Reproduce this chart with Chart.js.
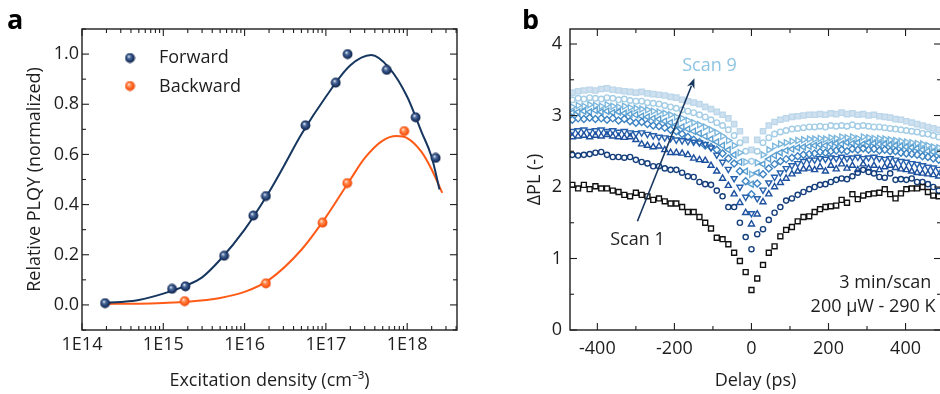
<!DOCTYPE html>
<html><head><meta charset="utf-8">
<script src="https://cdn.jsdelivr.net/npm/chart.js@4.4.1/dist/chart.umd.min.js"></script>
<style>
html,body{margin:0;padding:0;background:#fff;overflow:hidden;}
#wrap{position:relative;width:940px;height:394px;overflow:hidden;background:#fff;}
#ca{position:absolute;left:0;top:0;}
#cb{position:absolute;left:470px;top:0;}
</style></head><body>
<div id="wrap">
<canvas id="ca" width="470" height="394"></canvas>
<canvas id="cb" width="480" height="394"></canvas>
</div>
<script>
// ---------------- Panel a data ----------------
const forwardDensity = [1.92e14, 1.28e15, 1.87e15, 5.6e15, 1.28e16, 1.83e16, 5.6e16, 1.32e17, 1.85e17, 5.6e17, 1.27e18, 2.24e18];
const forwardPLQY    = [0.007, 0.064, 0.074, 0.196, 0.356, 0.434, 0.716, 0.886, 1.0, 0.937, 0.748, 0.586];
const backwardDensity = [1.83e15, 1.83e16, 9.1e16, 1.83e17, 9.2e17];
const backwardPLQY    = [0.015, 0.086, 0.328, 0.486, 0.693];
const fitDensityF = [1.9e14, 3e14, 5e14, 1e15, 2e15, 3e15, 5e15, 1e16, 2e16, 3e16, 5e16, 1e17, 2e17, 3.6e17, 6e17, 1e18, 1.5e18, 2e18, 2.5e18];
const fitForward  = [0.008, 0.012, 0.02, 0.045, 0.08, 0.11, 0.18, 0.30, 0.45, 0.55, 0.68, 0.83, 0.955, 0.996, 0.945, 0.83, 0.69, 0.59, 0.46];
const fitDensityB = [1.9e14, 5e14, 1e15, 2e15, 5e15, 1e16, 2e16, 5e16, 1e17, 2e17, 3e17, 5e17, 7.4e17, 1e18, 1.5e18, 2e18, 2.7e18];
const fitBackward = [0.004, 0.005, 0.008, 0.013, 0.028, 0.052, 0.10, 0.22, 0.35, 0.50, 0.585, 0.655, 0.673, 0.665, 0.61, 0.54, 0.447];
const xTicksA = [1e14, 1e15, 1e16, 1e17, 1e18];
const xTickLabelsA = ['1E14', '1E15', '1E16', '1E17', '1E18'];
const yTicksA = [0, 0.2, 0.4, 0.6, 0.8, 1.0];
const yTickLabelsA = ['0.0', '0.2', '0.4', '0.6', '0.8', '1.0'];
const yMinorA = [-0.1, 0.1, 0.3, 0.5, 0.7, 0.9, 1.1];
const legendLabelsA = ['Forward', 'Backward'];

// ---------------- Panel b data ----------------
const delays = [-465,-450,-435,-420,-405,-390,-375,-360,-345,-330,-315,-300,-285,-270,-255,-240,-225,-210,-195,-180,-165,
  -150,-135,-120,-105,-90,-75,-60,-45,-30,-15,0,15,30,45,60,75,90,105,120,135,150,
  164,178,192,206,220,234,248,262,276,290,304,318,332,346,360,374,388,402,416,430,444,458,472,486];
const scan1 = [2.03,1.98,2.03,1.97,2.01,1.98,1.98,1.95,1.93,1.89,1.87,1.92,1.89,1.87,1.82,1.84,1.80,1.77,1.77,1.72,1.65,
  1.65,1.58,1.50,1.42,1.29,1.27,1.20,1.08,0.965,0.81,0.56,0.72,0.91,1.08,1.17,1.31,1.40,1.44,1.52,1.58,1.59,
  1.65,1.69,1.72,1.73,1.74,1.82,1.78,1.90,1.83,1.88,1.90,1.91,1.92,1.97,1.90,1.84,1.91,1.97,1.98,1.98,2.00,1.93,1.88,1.87];
const scan2 = [2.45,2.44,2.45,2.46,2.48,2.49,2.45,2.42,2.42,2.41,2.42,2.38,2.35,2.33,2.29,2.29,2.26,2.24,2.24,2.20,2.15,
  2.14,2.07,2.04,2.03,1.95,1.87,1.72,1.72,1.50,1.30,1.13,1.34,1.41,1.54,1.64,1.72,1.81,1.84,1.89,1.93,1.97,
  2.00,2.03,2.04,2.07,2.10,2.12,2.11,2.15,2.20,2.24,2.21,2.19,2.14,2.13,2.19,2.10,2.11,2.10,2.12,2.07,2.07,2.04,2.00,1.95];
const scan3 = [2.70,2.71,2.72,2.70,2.72,2.71,2.73,2.71,2.70,2.69,2.70,2.66,2.60,2.58,2.56,2.57,2.52,2.48,2.48,2.47,2.45,
  2.40,2.38,2.37,2.30,2.22,2.12,2.02,1.90,1.78,1.64,1.48,1.62,1.79,1.90,2.00,2.06,2.12,2.18,2.22,2.25,2.26,
  2.24,2.28,2.22,2.30,2.25,2.32,2.26,2.30,2.24,2.32,2.26,2.30,2.24,2.28,2.30,2.27,2.25,2.24,2.22,2.20,2.19,2.18,2.17,2.15];
const scan4 = [2.78,2.79,2.80,2.78,2.79,2.80,2.78,2.79,2.77,2.78,2.76,2.75,2.76,2.74,2.72,2.70,2.69,2.68,2.66,2.65,2.64,
  2.63,2.62,2.60,2.55,2.45,2.35,2.25,2.12,2.00,1.86,1.63,1.84,1.96,2.06,2.14,2.20,2.26,2.30,2.33,2.36,2.38,
  2.38,2.40,2.39,2.41,2.40,2.42,2.40,2.41,2.42,2.40,2.41,2.42,2.40,2.39,2.40,2.38,2.36,2.35,2.33,2.32,2.30,2.28,2.27,2.25];
const scan5 = [2.94,2.96,2.95,2.97,2.95,2.96,2.94,2.96,2.93,2.95,2.92,2.90,2.91,2.88,2.86,2.85,2.83,2.80,2.78,2.74,2.70,
  2.66,2.63,2.58,2.56,2.52,2.47,2.40,2.33,2.22,2.08,1.90,2.05,2.18,2.26,2.32,2.36,2.39,2.41,2.43,2.45,2.46,
  2.47,2.49,2.48,2.50,2.51,2.52,2.50,2.53,2.52,2.54,2.52,2.53,2.51,2.52,2.50,2.50,2.48,2.47,2.46,2.45,2.43,2.42,2.40,2.38];
const scan6 = [3.04,3.05,3.06,3.05,3.07,3.05,3.06,3.04,3.05,3.03,3.02,3.01,2.99,2.98,2.96,2.95,2.92,2.90,2.87,2.84,2.81,
  2.78,2.75,2.71,2.67,2.63,2.58,2.52,2.45,2.35,2.22,2.04,2.20,2.32,2.39,2.44,2.48,2.51,2.53,2.55,2.56,2.57,
  2.58,2.59,2.58,2.60,2.61,2.60,2.62,2.61,2.62,2.60,2.62,2.61,2.60,2.60,2.59,2.58,2.57,2.56,2.55,2.54,2.52,2.50,2.49,2.47];
const scan7 = [3.12,3.14,3.13,3.15,3.14,3.13,3.15,3.13,3.12,3.13,3.11,3.10,3.09,3.08,3.06,3.05,3.03,3.01,2.98,2.96,2.93,
  2.90,2.87,2.84,2.80,2.76,2.71,2.65,2.58,2.48,2.35,2.18,2.34,2.45,2.52,2.57,2.60,2.62,2.64,2.65,2.66,2.67,
  2.67,2.68,2.67,2.69,2.68,2.70,2.69,2.70,2.68,2.70,2.69,2.68,2.68,2.67,2.66,2.65,2.64,2.63,2.62,2.61,2.60,2.58,2.56,2.55];
const scan8 = [3.22,3.24,3.23,3.25,3.24,3.23,3.25,3.24,3.22,3.23,3.21,3.20,3.20,3.18,3.17,3.16,3.14,3.12,3.10,3.08,3.06,
  3.04,3.01,2.98,2.94,2.90,2.86,2.80,2.72,2.62,2.50,2.36,2.50,2.62,2.69,2.74,2.77,2.79,2.81,2.82,2.83,2.84,
  2.84,2.85,2.84,2.86,2.85,2.86,2.85,2.87,2.85,2.86,2.85,2.84,2.84,2.83,2.82,2.81,2.80,2.79,2.78,2.77,2.75,2.74,2.72,2.70];
const scan9 = [3.32,3.34,3.35,3.36,3.35,3.37,3.38,3.36,3.35,3.34,3.33,3.32,3.33,3.31,3.30,3.29,3.28,3.26,3.25,3.22,3.20,
  3.18,3.16,3.12,3.09,3.05,3.01,2.96,2.88,2.78,2.66,2.52,2.66,2.78,2.86,2.91,2.94,2.96,2.98,2.99,3.00,3.01,
  3.01,3.02,3.01,3.03,3.02,3.04,3.02,3.03,3.01,3.02,3.00,3.01,2.99,2.98,2.97,2.95,2.94,2.92,2.90,2.88,2.86,2.84,2.82,2.80];
const xTicksB = [-400, -200, 0, 200, 400];
const xTickLabelsB = ['-400', '-200', '0', '200', '400'];
const xMinorB = [-300, -100, 100, 300];
const yTicksB = [0, 1, 2, 3, 4];
const yTickLabelsB = ['0', '1', '2', '3', '4'];
const yMinorB = [0.5, 1.5, 2.5, 3.5];
const arrowFrom = [-296, 1.52];
const arrowTo = [-148, 3.52];

// ---------------- shared helpers ----------------
const FONT = '"Open Sans", "Noto Sans", sans-serif';
const INK = '#1e1e1e';

function makeSphere(c) {
  const cv = document.createElement('canvas');
  cv.width = 11; cv.height = 11;
  const g = cv.getContext('2d');
  const gr = g.createRadialGradient(4.2, 3.8, 0.2, 5.5, 5.5, 5.4);
  gr.addColorStop(0, c[0]); gr.addColorStop(0.3, c[1]); gr.addColorStop(0.7, c[2]); gr.addColorStop(1, c[3]);
  g.fillStyle = gr;
  g.beginPath(); g.arc(5.5, 5.5, 4.9, 0, Math.PI * 2); g.fill();
  return cv;
}
const sphereF = makeSphere(['#eef2f8', '#4d6c9e', '#1d3868', '#0c1b3c']);
const sphereB = makeSphere(['#fff3ea', '#ff8c54', '#ff5b17', '#d9440b']);

function frameTicksPlugin(cfg) {
  return {
    id: 'frameTicks',
    afterDatasetsDraw(chart) {
      const { ctx, chartArea: a, scales: { x, y } } = chart;
      ctx.save();
      ctx.strokeStyle = INK;
      ctx.lineWidth = 1.1;
      const seg = (x1, y1, x2, y2) => { ctx.beginPath(); ctx.moveTo(x1, y1); ctx.lineTo(x2, y2); ctx.stroke(); };
      const tx = (vals, len) => vals.forEach(v => {
        const px = x.getPixelForValue(v);
        if (px < a.left - 0.5 || px > a.right + 0.5) return;
        seg(px, a.bottom, px, a.bottom - len);
        seg(px, a.top, px, a.top + len);
      });
      const ty = (vals, len) => vals.forEach(v => {
        const py = y.getPixelForValue(v);
        if (py < a.top - 0.5 || py > a.bottom + 0.5) return;
        seg(a.left, py, a.left + len, py);
        seg(a.right, py, a.right - len, py);
      });
      tx(cfg.xMajor, 7); tx(cfg.xMinor, 4);
      ty(cfg.yMajor, 7); ty(cfg.yMinor, 4);
      ctx.lineWidth = 1.4;
      ctx.strokeRect(a.left, a.top, a.right - a.left, a.bottom - a.top);
      ctx.restore();
    }
  };
}

function axisX(min, max, type, ticks, labels, pad, titleText, width) {
  return {
    type: type, min: min, max: max,
    grid: { display: false, drawTicks: false },
    border: { display: false },
    afterBuildTicks: s => { s.ticks = ticks.map(v => ({ value: v })); },
    afterFit: s => { s.height = 64; },
    ticks: { color: INK, font: { family: FONT, size: 18 }, padding: pad, maxRotation: 0, autoSkip: false,
      callback: (v, i) => labels[i] },
    title: { display: true, text: titleText, color: INK, font: { family: FONT, size: 18 }, padding: { top: 0, bottom: 2 } }
  };
}
function axisY(min, max, ticks, labels, pad, titleText, width, titlePad) {
  return {
    type: 'linear', min: min, max: max,
    grid: { display: false, drawTicks: false },
    border: { display: false },
    afterBuildTicks: s => { s.ticks = ticks.map(v => ({ value: v })); },
    afterFit: s => { s.width = width; },
    ticks: { color: INK, font: { family: FONT, size: 18 }, padding: pad, autoSkip: false,
      callback: (v, i) => labels[i] },
    title: { display: true, text: titleText, color: INK, font: { family: FONT, size: 18 }, padding: { top: titlePad, bottom: 0 } }
  };
}

// ---------------- Panel a ----------------
const minorLog = [];
[14, 15, 16, 17, 18].forEach(d => { for (let k = 2; k <= 9; k++) minorLog.push(k * Math.pow(10, d)); });

const panelALabels = {
  id: 'panelALabels',
  afterDraw(chart) {
    const ctx = chart.ctx;
    ctx.save();
    ctx.fillStyle = '#000';
    ctx.font = 'bold 27px ' + FONT;
    ctx.textBaseline = 'alphabetic';
    ctx.fillText('a', 7, 29);
    ctx.drawImage(sphereF, 130 - 5.5, 58 - 5.5);
    ctx.drawImage(sphereB, 130 - 5.5, 86 - 5.5);
    ctx.fillStyle = INK;
    ctx.font = '18px ' + FONT;
    ctx.textBaseline = 'middle';
    ctx.fillText(legendLabelsA[0], 159, 58);
    ctx.fillText(legendLabelsA[1], 159, 87);
    ctx.restore();
  }
};

new Chart(document.getElementById('ca'), {
  type: 'scatter',
  data: {
    datasets: [
      { label: legendLabelsA[0], data: forwardDensity.map((d, i) => ({ x: d, y: forwardPLQY[i] })),
        pointStyle: sphereF, pointRadius: 5 },
      { label: legendLabelsA[1], data: backwardDensity.map((d, i) => ({ x: d, y: backwardPLQY[i] })),
        pointStyle: sphereB, pointRadius: 5 },
      { label: 'Forward fit', data: fitDensityF.map((d, i) => ({ x: d, y: fitForward[i] })),
        showLine: true, pointRadius: 0, borderColor: '#16365f', borderWidth: 2, cubicInterpolationMode: 'monotone' },
      { label: 'Backward fit', data: fitDensityB.map((d, i) => ({ x: d, y: fitBackward[i] })),
        showLine: true, pointRadius: 0, borderColor: '#ff5b17', borderWidth: 2, cubicInterpolationMode: 'monotone' }
    ]
  },
  options: {
    responsive: false, animation: false, events: [],
    layout: { padding: { top: 29, right: 13, left: 0, bottom: 0 } },
    plugins: { legend: { display: false }, tooltip: { enabled: false } },
    scales: {
      x: axisX(1e14, 4.1e18, 'logarithmic', xTicksA, xTickLabelsA, 4, 'Excitation density (cm\u207B\u00B3)'),
      y: axisY(-0.1, 1.1, yTicksA, yTickLabelsA, 3, 'Relative PLQY (normalized)', 82, 24)
    }
  },
  plugins: [frameTicksPlugin({ xMajor: xTicksA, xMinor: minorLog, yMajor: yTicksA, yMinor: yMinorA }), panelALabels]
});

// ---------------- Panel b ----------------
const panelBLabels = {
  id: 'panelBLabels',
  afterDraw(chart) {
    const { ctx, scales: { x, y } } = chart;
    ctx.save();
    ctx.fillStyle = '#000';
    ctx.font = 'bold 27px ' + FONT;
    ctx.textBaseline = 'alphabetic';
    ctx.fillText('b', 52, 29);
    // arrow
    const x0 = x.getPixelForValue(arrowFrom[0]), y0 = y.getPixelForValue(arrowFrom[1]);
    const x1 = x.getPixelForValue(arrowTo[0]), y1 = y.getPixelForValue(arrowTo[1]);
    const ang = Math.atan2(y1 - y0, x1 - x0);
    const hl = 10, hw = 4;
    ctx.strokeStyle = '#17375e'; ctx.fillStyle = '#17375e'; ctx.lineWidth = 1.6;
    ctx.beginPath(); ctx.moveTo(x0, y0);
    ctx.lineTo(x1 - Math.cos(ang) * hl * 0.8, y1 - Math.sin(ang) * hl * 0.8); ctx.stroke();
    ctx.beginPath(); ctx.moveTo(x1, y1);
    ctx.lineTo(x1 - Math.cos(ang) * hl - Math.sin(ang) * hw, y1 - Math.sin(ang) * hl + Math.cos(ang) * hw);
    ctx.lineTo(x1 - Math.cos(ang) * hl * 0.7, y1 - Math.sin(ang) * hl * 0.7);
    ctx.lineTo(x1 - Math.cos(ang) * hl + Math.sin(ang) * hw, y1 - Math.sin(ang) * hl - Math.cos(ang) * hw);
    ctx.closePath(); ctx.fill();
    // texts
    ctx.font = '18px ' + FONT;
    ctx.textBaseline = 'middle';
    ctx.textAlign = 'center';
    ctx.fillStyle = '#8ec4e3';
    ctx.fillText('Scan 9', x.getPixelForValue(-109), y.getPixelForValue(3.69));
    ctx.fillStyle = INK;
    ctx.fillText('Scan 1', x.getPixelForValue(-296), y.getPixelForValue(1.26));
    ctx.textAlign = 'right';
    ctx.fillText('3 min/scan', x.getPixelForValue(467), y.getPixelForValue(0.66));
    ctx.fillText('200 \u03BCW - 290 K', x.getPixelForValue(478), y.getPixelForValue(0.32));
    ctx.restore();
  }
};

const scanData = [scan1, scan2, scan3, scan4, scan5, scan6, scan7, scan8, scan9];
const scanStyle = [
  { ps: 'rect', rot: 0, c: '#111111', r: 3.5, fill: 'rgba(0,0,0,0)' },
  { ps: 'circle', rot: 0, c: '#143e7b', r: 2.6, fill: 'rgba(0,0,0,0)' },
  { ps: 'triangle', rot: 0, c: '#1c4f9e', r: 3.5, fill: 'rgba(0,0,0,0)' },
  { ps: 'triangle', rot: 180, c: '#2660ad', r: 3.5, fill: 'rgba(0,0,0,0)' },
  { ps: 'rectRot', rot: 0, c: '#3d84c3', r: 3.5, fill: 'rgba(0,0,0,0)' },
  { ps: 'triangle', rot: 270, c: '#5ba0d1', r: 3.5, fill: 'rgba(0,0,0,0)' },
  { ps: 'triangle', rot: 90, c: '#7cb7dd', r: 3.5, fill: 'rgba(0,0,0,0)' },
  { ps: 'circle', rot: 0, c: '#a4cde6', r: 2.8, fill: 'rgba(0,0,0,0)' },
  { ps: 'rect', rot: 0, c: '#bdd7eb', r: 3.7, fill: '#cfe1ef' }
];

new Chart(document.getElementById('cb'), {
  type: 'scatter',
  data: {
    datasets: scanData.map((arr, k) => ({
      label: 'Scan ' + (k + 1),
      data: delays.map((d, i) => ({ x: d, y: arr[i] })),
      pointStyle: scanStyle[k].ps, pointRotation: scanStyle[k].rot,
      pointRadius: scanStyle[k].r, pointBorderWidth: 1.4,
      borderColor: scanStyle[k].c, backgroundColor: scanStyle[k].fill,
      pointBorderColor: scanStyle[k].c, pointBackgroundColor: scanStyle[k].fill
    }))
  },
  options: {
    responsive: false, animation: false, events: [],
    layout: { padding: { top: 29, right: 9, left: 0, bottom: 0 } },
    plugins: { legend: { display: false }, tooltip: { enabled: false } },
    scales: {
      x: axisX(-471, 492, 'linear', xTicksB, xTickLabelsB, 8, 'Delay (ps)'),
      y: axisY(0, 4.21, yTicksB, yTickLabelsB, 8, '\u0394PL (-)', 100, 54)
    }
  },
  plugins: [frameTicksPlugin({ xMajor: xTicksB, xMinor: xMinorB, yMajor: yTicksB, yMinor: yMinorB }), panelBLabels]
});
</script>
</body></html>
